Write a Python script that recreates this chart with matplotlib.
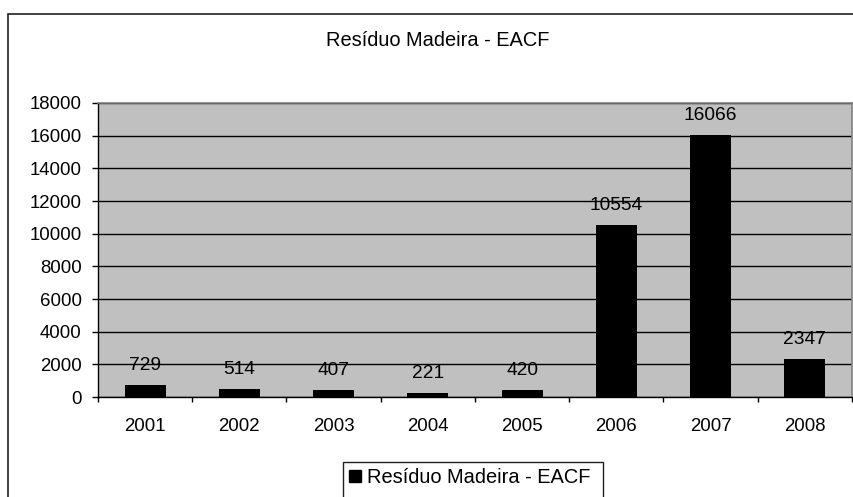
import matplotlib
matplotlib.use("Agg")
import matplotlib.pyplot as plt
from matplotlib.patches import Rectangle, Patch
import numpy as np

years = ["2001", "2002", "2003", "2004", "2005", "2006", "2007", "2008"]
values = [729, 514, 407, 221, 420, 10554, 16066, 2347]
series_name = "Resíduo Madeira - EACF"
title = "Resíduo Madeira - EACF"
yticks = list(range(0, 18001, 2000))

plt.rcParams['font.family'] = ['Liberation Sans', 'DejaVu Sans']

W, H = 854, 497
fig = plt.figure(figsize=(W / 100, H / 100), dpi=100)
fig.patch.set_facecolor('white')

def fx(px):
    return px / W

def fy(py):
    return 1 - py / H

ax = fig.add_axes([fx(98), fy(397), fx(852) - fx(98), (397 - 103) / H])
ax.set_facecolor('#c0c0c0')

x = np.arange(len(years))
bars = ax.bar(x, values, width=0.435, color='black', zorder=3)

ax.set_xlim(-0.5, len(years) - 0.5)
ax.set_ylim(0, 18000)
ax.set_yticks(yticks)
ax.set_yticklabels([str(v) for v in yticks])
ax.yaxis.grid(True, color='black', linewidth=1.0, zorder=1)
ax.set_axisbelow(True)

ax.set_xticks(x)
ax.set_xticklabels(years)
ax.set_xticks(np.arange(-0.5, len(years)), minor=True)
ax.tick_params(axis='x', which='major', length=0, pad=15, labelsize=13.4)
ax.tick_params(axis='x', which='minor', length=3.8, width=1, color='black', direction='out')
ax.tick_params(axis='y', length=4.3, width=1, color='black', direction='out', pad=7.5, labelsize=13.4)

for s in ['left', 'bottom']:
    ax.spines[s].set_color('black')
    ax.spines[s].set_linewidth(1.0)
for s in ['top', 'right']:
    ax.spines[s].set_color('#808080')
    ax.spines[s].set_linewidth(1.2)

for xi, v in zip(x, values):
    ax.annotate(str(v), (xi, v), xytext=(0, 10.8), textcoords='offset points',
                ha='center', va='baseline', fontsize=13.8, color='black', zorder=4)

fig.text(fx(437.5), fy(46), title, ha='center', va='baseline', fontsize=14.4)

# outer chart border (extends beyond the image on right/bottom)
fig.add_artist(Rectangle((fx(8), -0.5), 2.0, fy(14) + 0.5, transform=fig.transFigure,
                         fill=False, edgecolor='#202020', linewidth=1.2))
# legend box (clipped at the bottom)
fig.add_artist(Rectangle((fx(343), -0.5), fx(603) - fx(343), fy(462) + 0.5,
                         transform=fig.transFigure, fill=False, edgecolor='#202020', linewidth=1.0))

handle = Patch(facecolor='black', edgecolor='black')
fig.legend([handle], [series_name], loc='upper left',
           bbox_to_anchor=(fx(349), fy(468)), frameon=False, fontsize=14.4,
           handlelength=0.6, handleheight=0.6, handletextpad=0.3, borderpad=0,
           borderaxespad=0)

fig.savefig('out.png', dpi=100)
